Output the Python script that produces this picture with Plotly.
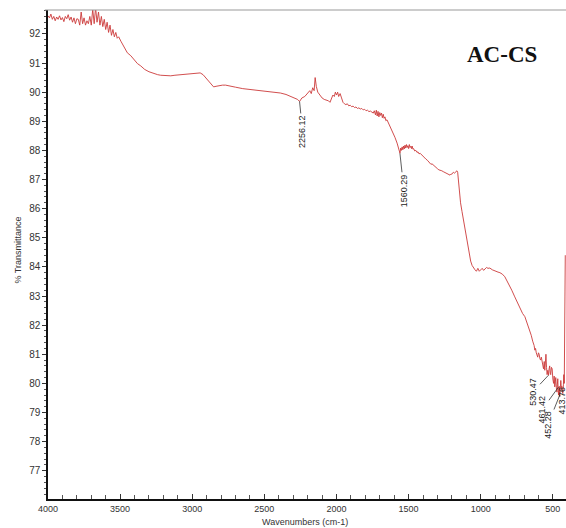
import plotly.graph_objects as go

# FTIR spectrum of AC-CS
wavenumber = [
    4000, 3990, 3980, 3970, 3960, 3950, 3940, 3930, 3920, 3910, 3900, 3890, 3880, 3870,
    3860, 3850, 3840, 3830, 3820, 3810, 3800, 3790, 3780, 3770, 3760, 3750, 3740, 3730,
    3720, 3710, 3700, 3690, 3680, 3670, 3660, 3650, 3640, 3630, 3620, 3610, 3600, 3590,
    3580, 3570, 3560, 3550, 3540, 3530, 3520, 3510, 3495, 3470, 3450, 3426, 3400, 3380,
    3357, 3330, 3300, 3267, 3240, 3219, 3180, 3149, 3120, 3080, 3040, 3011, 2985, 2963,
    2945, 2925, 2907, 2890, 2873, 2852, 2835, 2817, 2790, 2769, 2740, 2700, 2650, 2596,
    2550, 2492, 2440, 2389, 2350, 2320, 2290, 2270, 2256, 2240, 2220, 2200, 2185, 2175,
    2165, 2155, 2148, 2140, 2130, 2115, 2100, 2085, 2070, 2055, 2045, 2035, 2025, 2015,
    2008, 2000, 1992, 1985, 1975, 1965, 1955, 1945, 1935, 1925, 1915, 1905, 1895, 1885,
    1875, 1865, 1855, 1845, 1835, 1825, 1815, 1805, 1795, 1785, 1775, 1765, 1755, 1745,
    1738, 1730, 1724, 1718, 1712, 1706, 1700, 1694, 1688, 1682, 1676, 1670, 1664, 1658,
    1650, 1640, 1625, 1610, 1595, 1580, 1570, 1565, 1560, 1555, 1550, 1545, 1540, 1535,
    1530, 1525, 1520, 1515, 1510, 1505, 1500, 1495, 1490, 1485, 1480, 1476, 1470, 1465,
    1458, 1450, 1442, 1435, 1428, 1420, 1410, 1400, 1390, 1380, 1370, 1360, 1350, 1345,
    1338, 1330, 1320, 1310, 1300, 1290, 1280, 1270, 1260, 1250, 1240, 1230, 1220, 1213,
    1205, 1200, 1195, 1190, 1182, 1175, 1168, 1165, 1160, 1155, 1150, 1140, 1130, 1120,
    1110, 1100, 1090, 1080, 1070, 1060, 1050, 1040, 1030, 1020, 1010, 1000, 990, 980,
    970, 960, 950, 937, 920, 900, 880, 867, 850, 833, 815, 800, 785, 764,
    745, 725, 710, 694, 680, 670, 660, 650, 640, 630, 625, 620, 615, 610,
    605, 600, 595, 590, 585, 580, 575, 570, 565, 560, 556, 552, 548, 544,
    540, 535, 530, 526, 522, 518, 515, 510, 505, 500, 495, 491, 487, 483,
    480, 476, 472, 469, 466, 463, 461, 458, 456, 454, 452, 449, 445, 441,
    438, 434, 431, 427, 424, 421, 418, 414,
]
transmittance = [
    92.62, 92.55, 92.68, 92.50, 92.60, 92.45, 92.58, 92.50, 92.62, 92.48, 92.56, 92.42, 92.60, 92.52,
    92.66, 92.47, 92.58, 92.40, 92.55, 92.35, 92.52, 92.50, 92.30, 92.75, 92.35, 92.55, 92.30, 92.45,
    92.35, 92.60, 92.30, 92.85, 92.35, 92.90, 92.40, 92.75, 92.30, 92.60, 92.25, 92.50, 92.15, 92.40,
    92.05, 92.30, 91.95, 92.15, 91.90, 92.05, 91.85, 91.90, 91.75, 91.55, 91.35, 91.25, 91.08, 90.98,
    90.90, 90.78, 90.70, 90.63, 90.60, 90.58, 90.57, 90.56, 90.58, 90.60, 90.61, 90.63, 90.65, 90.67,
    90.66, 90.60, 90.50, 90.40, 90.28, 90.18, 90.20, 90.22, 90.24, 90.24, 90.20, 90.17, 90.12, 90.09,
    90.07, 90.04, 90.00, 89.97, 89.92, 89.86, 89.80, 89.75, 89.68, 89.80, 89.85, 89.95, 90.05, 89.95,
    90.15, 90.05, 90.50, 90.20, 90.00, 89.90, 89.80, 89.75, 89.72, 89.70, 89.65, 89.75, 89.90, 89.85,
    90.00, 89.90, 90.00, 89.85, 89.95, 89.80, 89.65, 89.60, 89.57, 89.60, 89.53, 89.55, 89.50, 89.52,
    89.47, 89.49, 89.44, 89.46, 89.42, 89.44, 89.39, 89.41, 89.36, 89.38, 89.33, 89.35, 89.30, 89.28,
    89.36, 89.22, 89.38, 89.18, 89.34, 89.15, 89.30, 89.20, 89.28, 89.12, 89.24, 89.10, 89.15, 89.02,
    89.05, 88.95, 88.80, 88.60, 88.45, 88.25, 88.10, 88.05, 87.90, 88.08, 88.00, 88.12, 88.02, 88.15,
    88.05, 88.18, 88.08, 88.20, 88.10, 88.16, 88.06, 88.20, 88.10, 88.14, 88.06, 88.15, 88.04, 88.06,
    87.98, 88.00, 87.93, 87.95, 87.88, 87.90, 87.84, 87.82, 87.76, 87.70, 87.66, 87.60, 87.58, 87.52,
    87.54, 87.50, 87.44, 87.40, 87.37, 87.33, 87.32, 87.30, 87.27, 87.25, 87.23, 87.20, 87.17, 87.15,
    87.19, 87.18, 87.22, 87.25, 87.22, 87.25, 87.28, 87.30, 87.25, 87.00, 86.60, 86.20, 85.90, 85.60,
    85.30, 85.00, 84.70, 84.40, 84.20, 84.05, 83.95, 83.90, 83.85, 83.95, 83.85, 83.90, 83.95, 83.88,
    83.92, 83.98, 83.95, 83.96, 83.90, 83.85, 83.82, 83.80, 83.75, 83.66, 83.50, 83.35, 83.20, 82.97,
    82.75, 82.55, 82.40, 82.29, 82.10, 81.95, 81.83, 81.65, 81.45, 81.30, 81.14, 81.20, 81.05, 80.95,
    80.90, 81.05, 81.00, 80.85, 80.80, 80.90, 80.75, 80.60, 80.50, 80.75, 80.45, 80.70, 81.00, 80.55,
    80.30, 80.45, 80.28, 80.50, 80.60, 80.35, 80.30, 80.55, 80.50, 80.15, 80.00, 80.25, 79.88, 80.05,
    80.20, 79.85, 79.70, 79.95, 80.16, 79.75, 79.60, 79.85, 79.90, 79.70, 79.55, 79.80, 80.10, 79.80,
    79.90, 79.70, 79.65, 79.95, 80.30, 80.00, 81.50, 84.40,
]

# Labelled peaks: position, transmittance, label offset (px)
peak_wn = [2256.12, 1560.29, 530.47, 461.42, 452.28, 413.76]
peak_t = [89.68, 87.90, 80.28, 79.87, 79.60, 79.90]
peak_ax = [3, 4, -15, -16, -12, -3]
peak_ay = [30, 37, 16, 22, 30, 14]

y_ticks = list(range(77, 93))
x_ticks = [4000, 3500, 3000, 2500, 2000, 1500, 1000, 500]

fig = go.Figure()
fig.add_trace(go.Scatter(
    x=wavenumber, y=transmittance, mode="lines",
    line=dict(color="#cc3a3a", width=0.9), hoverinfo="skip", showlegend=False,
))

for wn, t, ax, ay in zip(peak_wn, peak_t, peak_ax, peak_ay):
    fig.add_annotation(
        x=wn, y=t, text=f"{wn:.2f}", textangle=-90,
        showarrow=True, arrowhead=0, arrowwidth=0.8, arrowcolor="#333333",
        ax=ax, ay=ay, standoff=0,
        font=dict(family="Liberation Sans, Arial", size=9, color="#222222"),
    )

fig.add_annotation(
    x=0.876, y=0.91, xref="paper", yref="paper", xanchor="center", yanchor="middle",
    text="<b>AC-CS</b>", showarrow=False,
    font=dict(family="Liberation Serif, Times New Roman, serif", size=23, color="#111111"),
)
fig.add_annotation(
    x=-0.058, y=0.51, xref="paper", yref="paper", xanchor="center", yanchor="middle",
    text="% Transmittance", textangle=-90,
    showarrow=False, font=dict(family="Liberation Sans, Arial", size=9, color="#333333"),
)
fig.add_annotation(
    x=0.496, y=-0.047, xref="paper", yref="paper", xanchor="center", yanchor="middle",
    text="Wavenumbers (cm-1)",
    showarrow=False, font=dict(family="Liberation Sans, Arial", size=9, color="#333333"),
)

fig.add_shape(type="line", xref="paper", yref="paper", x0=-0.006, x1=1, y0=1, y1=1,
              line=dict(color="#999999", width=1))

fig.update_layout(
    width=566, height=528,
    margin=dict(l=48, r=0, t=10, b=29),
    paper_bgcolor="white", plot_bgcolor="white",
    font=dict(family="Liberation Sans, Arial", size=9, color="#333333"),
    xaxis=dict(
        range=[4000, 409], tickvals=x_ticks, ticks="inside", ticklen=5, tickcolor="#333333",
        showline=True, linecolor="#111111", linewidth=2, showgrid=False, zeroline=False,
        minor=dict(dtick=100, ticks="inside", ticklen=4, tickcolor="#555555"),
        tickfont=dict(size=9),
    ),
    yaxis=dict(
        range=[76.03, 92.82], tickvals=y_ticks, ticks="outside", ticklen=4, tickcolor="#333333",
        showline=True, linecolor="#111111", linewidth=1.5, showgrid=False, zeroline=False,
        minor=dict(dtick=0.2, ticks="outside", ticklen=2, tickcolor="#555555"),
        tickfont=dict(size=10),
    ),
)

fig.write_html("out.html")
